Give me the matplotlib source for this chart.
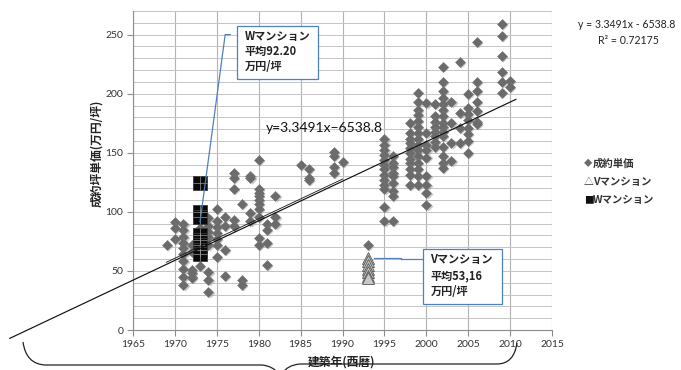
import matplotlib
matplotlib.use("Agg")
import matplotlib.pyplot as plt
from matplotlib.path import Path
from matplotlib.patches import PathPatch, Rectangle
import numpy as np

# ---------------- data ----------------
price_by_year = {
    1969: [72],
    1970: [91, 77, 86],
    1971: [90, 85, 79, 74, 69, 64, 58, 52, 45, 38],
    1972: [72, 66, 51, 45, 48, 44],
    1973: [54, 80, 86],
    1974: [95, 88, 83, 79, 72, 49, 42, 32],
    1975: [102, 92, 87, 82, 77, 72, 62],
    1976: [96, 88, 68, 46],
    1977: [133, 129, 119, 93, 88],
    1978: [107, 42, 38],
    1979: [130, 129, 99, 92],
    1980: [144, 119, 116, 113, 110, 107, 102, 96, 78, 72],
    1981: [90, 85, 74, 55],
    1982: [113, 96, 90],
    1985: [140],
    1986: [136, 129, 127],
    1989: [151, 147, 138, 133],
    1990: [142],
    1993: [72],
    1995: [162, 157, 152, 148, 144, 140, 136, 131, 127, 123, 119, 104, 92],
    1996: [147, 141, 138, 133, 130, 124, 118, 113, 92],
    1998: [175, 167, 162, 158, 154, 150, 145, 141, 136, 131, 123],
    1999: [201, 193, 186, 182, 177, 172, 167, 162, 157, 152, 147, 141, 136, 130, 123],
    2000: [192, 167, 157, 152, 146, 130, 123, 116, 106],
    2001: [191, 181, 176, 172, 168, 164, 159, 155],
    2002: [223, 210, 202, 196, 191, 186, 181, 175, 172, 168, 164, 155, 147, 141, 137],
    2003: [193, 175, 158, 143],
    2004: [227, 184, 171, 158],
    2005: [200, 188, 183, 178, 171, 166, 160, 150],
    2006: [244, 210, 202, 193, 185, 176, 174],
    2009: [259, 249, 232, 218, 210, 201],
    2010: [211, 206],
}
price_years = [y for y, vals in price_by_year.items() for _ in vals]
price_values = [v for vals in price_by_year.values() for v in vals]

v_year = 1993
v_values = [61, 58, 55, 52, 49, 46, 44]
w_year = 1973
w_values = [124, 100, 96, 80, 76, 72, 68, 64]

slope, intercept = 3.3491, -6538.8
trend_x = [1950.3, 2010.7]
x_ticks = list(range(1965, 2016, 5))
y_ticks = list(range(0, 251, 50))

eq_text = "y = 3.3491x - 6538.8"
r2_text = "R² = 0.72175"
mid_eq_text = "y=3.3491x\u22126538.8"
legend_labels = ["成約単価", "Vマンション", "Wマンション"]
w_note = ["Wマンション", "平均92.20", "万円/坪"]
v_note = ["Vマンション", "平均53,16", "万円/坪"]
xlabel = "建築年(西暦)"
ylabel = "成約坪単価(万円/坪)"

# ---------------- figure ----------------
W, H = 681, 370
fig = plt.figure(figsize=(W / 100, H / 100), dpi=100)
plt.rcParams['font.family'] = ['Lato', 'Noto Sans CJK JP', 'DejaVu Sans']
JP = ['Noto Sans CJK JP', 'DejaVu Sans']
NUM = ['Lato', 'DejaVu Sans']

def fx(px):
    return px / W

def fy(py):
    return 1 - py / H

ax = fig.add_axes([fx(133), fy(330), fx(552) - fx(133), fy(11) - fy(330)])
ax.set_xlim(1965, 2015)
ax.set_ylim(0, 270)
ax.set_xticks(x_ticks)
ax.set_yticks(y_ticks)
ax.set_yticks(np.arange(0, 271, 10), minor=True)
ax.grid(True, which='major', axis='x', color='#b3b3b3', lw=0.8)
ax.grid(True, which='both', axis='y', color='#c4c4c4', lw=0.7)
ax.set_axisbelow(True)
for s in ['top', 'right']:
    ax.spines[s].set_visible(False)
for s in ['left', 'bottom']:
    ax.spines[s].set_color('#8c8c8c')
    ax.spines[s].set_linewidth(0.8)
ax.tick_params(axis='both', which='major', direction='out', length=4, color='#8c8c8c',
               labelsize=7.5, labelcolor='#333333', pad=3)
ax.tick_params(axis='y', which='minor', length=0)
for lab in ax.get_xticklabels() + ax.get_yticklabels():
    lab.set_family(NUM)

# scatter: prices
ax.plot(np.array(price_years) + 0.15, np.array(price_values) - 0.8, ls='none', marker='D',
        ms=5.0, mfc='#a8a8a8', mec='none', alpha=0.6, zorder=3)
ax.plot(price_years, price_values, ls='none', marker='D', ms=5.0, mfc='#6b6b6b',
        mec='#777777', mew=0.4, zorder=4)

# V triangles
ax.plot([v_year] * len(v_values), v_values, ls='none', marker='^', ms=8,
        mfc='#c8c8c8', mec='#555555', mew=0.6, zorder=5)

# W squares
ax.plot([w_year] * len(w_values), w_values, ls='none', marker='s', ms=9.6,
        mfc='#0a0a0a', mec='#3a3a3a', mew=0.6, zorder=6)
ax.plot([w_year] * len(w_values), w_values, ls='none', marker='+', ms=9.6,
        mec='#9a9a9a', mew=0.5, zorder=7)

# trend lines
tx = np.array(trend_x)
ax.plot(tx, slope * tx + intercept, color='#111111', lw=0.85, clip_on=False, zorder=8)
tx2 = np.array([1969.0, 1990.0])
ax.plot(tx2, slope * tx2 + intercept + 1.8, color='#222222', lw=0.65, clip_on=False, zorder=8)

# middle equation text
ax.text(1980.8, 171, mid_eq_text, fontsize=10, color='#111111', family=['Lato'],
        ha='left', va='center', zorder=9)

# W annotation
ax.plot([1976.6, 1976.0, 1973.0], [250, 250, 91.5], color='#4f81bd', lw=0.9,
        clip_on=False, zorder=9)
ax.add_patch(Rectangle((1977.4, 212.7), 9.7, 44.9, fill=True, fc='white',
                       ec='#4f81bd', lw=0.9, zorder=9))
for i, t in enumerate(w_note):
    ax.text(1978.3, 248.5 - i * 12.7, t, fontsize=8, family=JP, weight='bold',
            color='#222222', ha='left', va='center', zorder=10)

# V annotation
ax.plot([1993.7, 1997.0, 1997.0, 1999.6], [60.8, 60.8, 60.3, 60.3], color='#4f81bd',
        lw=0.9, zorder=9)
ax.add_patch(Rectangle((1999.6, 21.8), 9.4, 46.6, fill=True, fc='white',
                       ec='#4f81bd', lw=0.9, zorder=9))
for i, t in enumerate(v_note):
    ax.text(2000.5, 59.3 - i * 13.5, t, fontsize=8, family=JP, weight='bold',
            color='#222222', ha='left', va='center', zorder=10)

# axis labels
fig.text(fx(97), fy(153), ylabel, rotation=90, ha='center', va='center',
         fontsize=8.5, family=JP, weight='bold', color='#222222')
fig.text(fx(341), fy(362), xlabel, ha='center', va='center',
         fontsize=8.5, family=JP, weight='bold', color='#222222', zorder=5)

# right-side equation
fig.text(fx(627), fy(25), eq_text, ha='center', va='center', fontsize=7.6,
         family=['Lato'], color='#222222')
fig.text(fx(628), fy(41), r2_text, ha='center', va='center', fontsize=7.6,
         family=['Lato'], color='#222222')

# legend
leg_y = [164, 182, 200]
fig.text(fx(584), fy(leg_y[0]), "◆", ha='left', va='center', fontsize=6,
         family=JP, color='#6b6b6b')
fig.text(fx(584), fy(leg_y[1]), "△", ha='left', va='center', fontsize=7,
         family=JP, color='#333333')
fig.text(fx(584), fy(leg_y[2]), "■", ha='left', va='center', fontsize=7,
         family=JP, color='#111111')
for yy, lab in zip(leg_y, legend_labels):
    fig.text(fx(593), fy(yy), lab, ha='left', va='center', fontsize=7.5,
             family=JP, weight='bold', color='#333333')

# bracket below the axis
P = lambda x, y: (fx(x), fy(y))
verts = [P(23, 342), P(26, 364), P(45, 365), P(262, 365), P(273, 366), P(279, 374),
         P(282, 374), P(287, 365), P(300, 364), P(497, 364), P(514, 364), P(517, 343)]
codes = [Path.MOVETO, Path.CURVE3, Path.CURVE3, Path.LINETO, Path.CURVE3, Path.CURVE3,
         Path.MOVETO, Path.CURVE3, Path.CURVE3, Path.LINETO, Path.CURVE3, Path.CURVE3]
fig.add_artist(PathPatch(Path(verts, codes), transform=fig.transFigure, fill=False,
                         ec='#222222', lw=0.9, clip_on=False, zorder=1))

fig.savefig("out.png", dpi=100)
